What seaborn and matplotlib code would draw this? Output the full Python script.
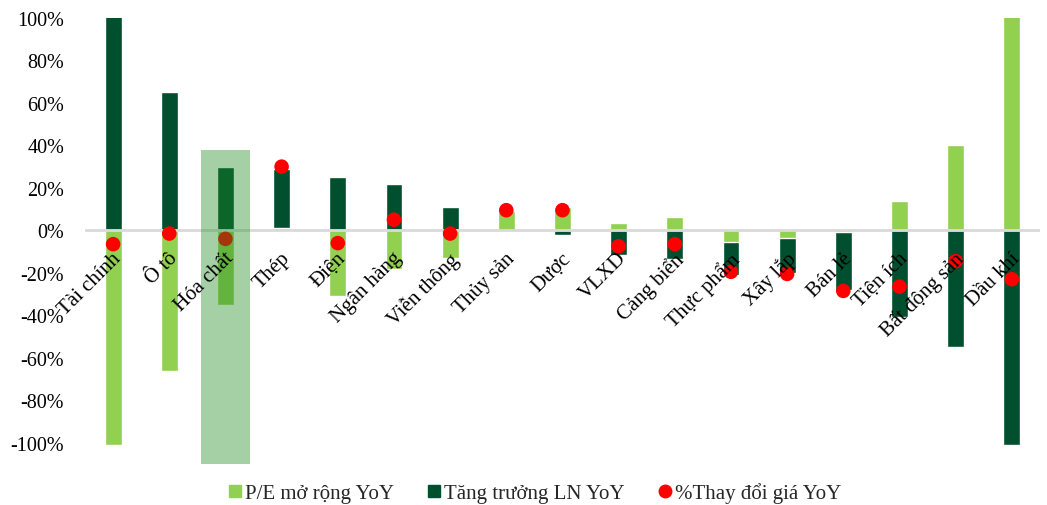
import numpy as np
import pandas as pd
import matplotlib
matplotlib.use("Agg")
import matplotlib.pyplot as plt
import matplotlib.transforms as mtransforms
from matplotlib.lines import Line2D
from matplotlib.patches import Rectangle
from matplotlib.ticker import FuncFormatter
import seaborn as sns

# ── DATA ────────────────────────────────────────────────────────────────────
sectors = ["Tài chính", "Ô tô", "Hóa chất", "Thép", "Điện", "Ngân hàng",
           "Viễn thông", "Thủy sản", "Dược", "VLXD", "Cảng biển", "Thực phẩm",
           "Xây lắp", "Bán lẻ", "Tiện ích", "Bất động sản", "Dầu khí"]
pe_yoy    = [-1.01, -0.66, -0.35, 0.01, -0.31, -0.18, -0.13, 0.09, 0.11,
             0.033, 0.063, -0.055, -0.038, -0.01, 0.14, 0.40, 1.05]
ln_yoy    = [1.05, 0.65, 0.30, 0.28, 0.25, 0.22, 0.11, 0.005, -0.02,
             -0.116, -0.135, -0.155, -0.165, -0.27, -0.41, -0.55, -1.01]
price_yoy = [-0.065, -0.015, -0.04, 0.30, -0.06, 0.05, -0.015, 0.095, 0.095,
             -0.075, -0.065, -0.195, -0.205, -0.285, -0.265, -0.145, -0.23]
highlight = "Hóa chất"

# ── STYLE ───────────────────────────────────────────────────────────────────
C_PE    = "#92d050"
C_LN    = "#00502f"
C_PRICE = "#ff0000"

sns.set_theme(style="white")
plt.rcParams["font.family"] = ["Liberation Serif", "DejaVu Serif"]
plt.rcParams["axes.unicode_minus"] = False

pe = np.array(pe_yoy)
ln = np.array(ln_yoy)
# stacked like Excel: same-sign parts pile up, opposite signs start from zero
same_sign = np.sign(pe) == np.sign(ln)
ln_top = ln + np.where(same_sign, pe, 0.0)

df = pd.DataFrame({"sector": sectors, "pe": pe, "ln_top": ln_top,
                   "price": price_yoy})

fig = plt.figure(figsize=(10.47, 5.06), dpi=100)
ax = fig.add_axes([0.0812, 0.081, 0.912, 0.8815])

sns.barplot(data=df, x="sector", y="ln_top", color=C_LN, width=0.3,
            saturation=1, ax=ax, zorder=2)
sns.barplot(data=df, x="sector", y="pe", color=C_PE, width=0.3,
            saturation=1, ax=ax, zorder=3)
ax.axhline(0, color="#d9d9d9", lw=2, zorder=4)
sns.scatterplot(data=df, x="sector", y="price", color=C_PRICE, s=110,
                edgecolor="none", ax=ax, zorder=5)

# highlight box on one sector
hi = sectors.index(highlight)
ax.add_patch(Rectangle((hi - 0.435, -1.10), 0.87, 1.48, facecolor="#208920",
                       alpha=0.4, edgecolor="none", zorder=6))

ax.set_xlim(-0.5, len(sectors) - 0.5)
ax.set_ylim(-1.10, 1.0)
ax.set_yticks(np.arange(-1.0, 1.01, 0.2))
ax.yaxis.set_major_formatter(FuncFormatter(lambda v, _: f"{round(v*100):d}%"))
ax.tick_params(axis="y", labelsize=14.5, length=0, pad=15, colors="black")
ax.set_xticks([])
ax.set_xlabel("")
ax.set_ylabel("")
for s in ax.spines.values():
    s.set_visible(False)

# category labels sit on the zero line, rotated
offset = mtransforms.ScaledTranslation(-1 / 72, -13 / 72, fig.dpi_scale_trans)
for i, name in enumerate(sectors):
    ax.text(i, 0, name, rotation=45, ha="right", va="top",
            rotation_mode="anchor", fontsize=15, color="black", zorder=7,
            transform=ax.transData + offset)

handles = [
    Line2D([], [], marker="s", ls="", color=C_PE, markersize=8),
    Line2D([], [], marker="s", ls="", color=C_LN, markersize=8),
    Line2D([], [], marker="o", ls="", color=C_PRICE, markersize=9),
]
labels = ["P/E mở rộng YoY", "Tăng trưởng LN YoY", "%Thay đổi giá YoY"]
fig.legend(handles, labels, loc="center", bbox_to_anchor=(0.511, 0.024),
           ncol=3, frameon=False, fontsize=15, handlelength=0.6,
           handletextpad=0.2, columnspacing=1.6)

fig.savefig("out.png", dpi=100)
